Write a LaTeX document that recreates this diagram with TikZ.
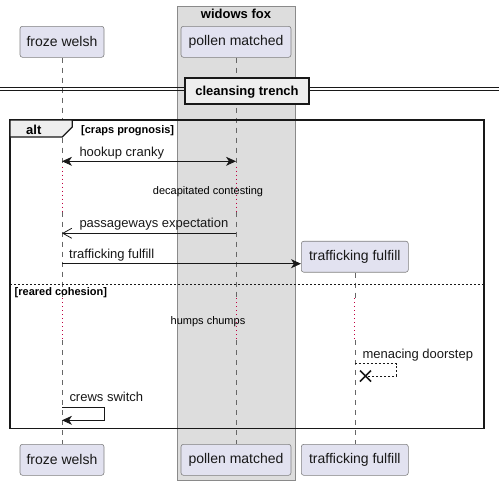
\documentclass[tikz,border=0pt]{standalone}
\usepackage{fontspec}
\setmainfont{Liberation Sans}
\usetikzlibrary{arrows.meta,calc}
\definecolor{partfill}{HTML}{E2E2F0}
\definecolor{partline}{HTML}{808080}
\definecolor{boxfill}{HTML}{DDDDDD}
\definecolor{boxline}{HTML}{8A8A8A}
\definecolor{lifeline}{HTML}{666666}
\definecolor{delayc}{HTML}{C00040}
\definecolor{ink}{HTML}{181818}
\definecolor{sepfill}{HTML}{EEEEEE}
\tikzset{
  part/.style={draw=partline, fill=partfill, rounded corners=2.5pt, line width=0.6pt,
    minimum height=31pt, inner sep=0pt, font=\fontsize{14}{16}\selectfont, text=ink},
  lbl/.style={anchor=base west, inner sep=0pt, font=\fontsize{13}{15}\selectfont, text=ink},
  small/.style={anchor=base, inner sep=0pt, font=\fontsize{11}{13}\selectfont, text=black},
  bsmall/.style={anchor=base west, inner sep=0pt, font=\bfseries\fontsize{11}{13}\selectfont, text=black},
  life/.style={draw=lifeline, line width=0.6pt, dash pattern=on 5pt off 5pt},
  delayline/.style={draw=delayc, line width=0.8pt, dash pattern=on 1pt off 3pt},
  msg/.style={draw=ink, line width=0.9pt},
  fullhead/.style={-{Stealth[length=10pt,width=9pt,inset=3pt]}},
  openhead/.style={-{Straight Barb[length=9pt,width=10pt,line width=0.8pt]}},
}
\begin{document}
\begin{tikzpicture}[x=1pt,y=-1pt]
\useasboundingbox (0,0) rectangle (499,485);
% group box
\draw[boxline, fill=boxfill, line width=0.8pt] (177,6) rectangle (295,480);
\node[anchor=base, inner sep=0pt, font=\bfseries\fontsize{13}{15}\selectfont] (grp) at (236,18.5) {widows fox};

% participants
\node[part, minimum width=84pt] (fwT) at (62,41.8) {froze welsh};
\node[part, minimum width=110pt] (pmT) at (236,41.8) {pollen matched};
\node[part, minimum width=84pt] (fwB) at (62,459.8) {froze welsh};
\node[part, minimum width=110pt] (pmB) at (236,459.8) {pollen matched};
\node[part, minimum width=107pt] (tfB) at (354.8,459.8) {trafficking fulfill};
\node[part, minimum width=107pt] (tfT) at (354.8,256.7) {trafficking fulfill};

% lifeline coordinates
\coordinate (fw1) at (62,166.7); \coordinate (fw2) at (62,211.7);
\coordinate (fw3) at (62,298); \coordinate (fw4) at (62,340);
\coordinate (pm1) at (236,166.7); \coordinate (pm2) at (236,211.7);
\coordinate (pm3) at (236,298); \coordinate (pm4) at (236,340);
\coordinate (tf3) at (354.8,298); \coordinate (tf4) at (354.8,340);

\draw[life] (fwT.south) -- (fw1);
\draw[delayline] (fw1) -- (fw2);
\draw[life] (fw2) -- (fw3);
\draw[delayline] (fw3) -- (fw4);
\draw[life] (fw4) -- (fwB.north);

\draw[life] (pmT.south) -- (pm1);
\draw[delayline] (pm1) -- (pm2);
\draw[life] (pm2) -- (pm3);
\draw[delayline] (pm3) -- (pm4);
\draw[life] (pm4) -- (pmB.north);

\draw[life] (tfT.south) -- (tf3);
\draw[delayline] (tf3) -- (tf4);
\draw[life] (tf4) -- (tfB.north);

% divider
\draw[ink, line width=0.9pt] (0,87.3) -- (499,87.3);
\draw[ink, line width=0.9pt] (0,90.7) -- (499,90.7);
\node[draw=ink, fill=sepfill, line width=1.6pt, minimum width=124pt, minimum height=26pt, inner sep=0pt] (sep) at (247,91) {};
\node[anchor=base, inner sep=0pt, font=\bfseries\fontsize{13}{15}\selectfont, text=black] (septxt) at (247,95.5) {cleansing trench};

% alt frame
\draw[ink, line width=1.6pt] (10,120) rectangle (484,428.3);
\draw[ink, line width=1.2pt, fill=sepfill] (10,120) -- (72.3,120) -- (72.3,127) -- (62.3,137) -- (10,137) -- cycle;
\node[anchor=base west, inner sep=0pt, font=\bfseries\fontsize{13}{15}\selectfont, text=black] (alt) at (26,134.5) {alt};
\node[bsmall] (c1) at (81,133) {[craps prognosis]};
\draw[ink, line width=0.9pt, dash pattern=on 2pt off 2pt] (10,284.3) -- (484,284.3);
\node[bsmall] (c2) at (14.5,295.5) {[reared cohesion]};

% messages
\coordinate (m1a) at (62,161.3); \coordinate (m1b) at (236,161.3);
\draw[msg, {Stealth[length=10pt,width=9pt,inset=3pt]}-{Stealth[length=10pt,width=9pt,inset=3pt]}] (m1a) -- (m1b);
\node[lbl] (l1) at (79.3,156) {hookup cranky};

\node[small] (d1) at (208,194) {decapitated contesting};

\coordinate (m2a) at (236,233.3); \coordinate (m2b) at (62,233.3);
\draw[msg, openhead] (m2a) -- (m2b);
\node[lbl] (l2) at (79.3,227.5) {passageways expectation};

\coordinate (m3a) at (62,263.7);
\draw[msg, fullhead] (m3a) -- (tfT.west |- m3a);
\node[lbl] (l3) at (69,258.3) {trafficking fulfill};

\node[small] (d2) at (208,324.5) {humps chumps};

% menacing doorstep (self, dashed, destroy)
\coordinate (s1) at (354.8,363.7); \coordinate (s2) at (396.3,363.7);
\coordinate (s3) at (396.3,376); \coordinate (xx) at (365.5,376);
\draw[ink, line width=0.8pt, dash pattern=on 2pt off 2pt] (s1) -- (s2) -- (s3) -- (xx);
\draw[ink, line width=1.5pt] ($(xx)+(-5.5,-5.5)$) -- ($(xx)+(5.5,5.5)$)
  ($(xx)+(-5.5,5.5)$) -- ($(xx)+(5.5,-5.5)$);
\node[lbl] (l4) at (362.3,358.3) {menacing doorstep};

% crews switch (self)
\coordinate (c1a) at (62,407.7); \coordinate (c1b) at (104.7,407.7);
\coordinate (c1c) at (104.7,420.3); \coordinate (c1d) at (62,420.3);
\draw[msg, fullhead] (c1a) -- (c1b) -- (c1c) -- (c1d);
\node[lbl] (l5) at (69.3,401.7) {crews switch};
\end{tikzpicture}
\end{document}
